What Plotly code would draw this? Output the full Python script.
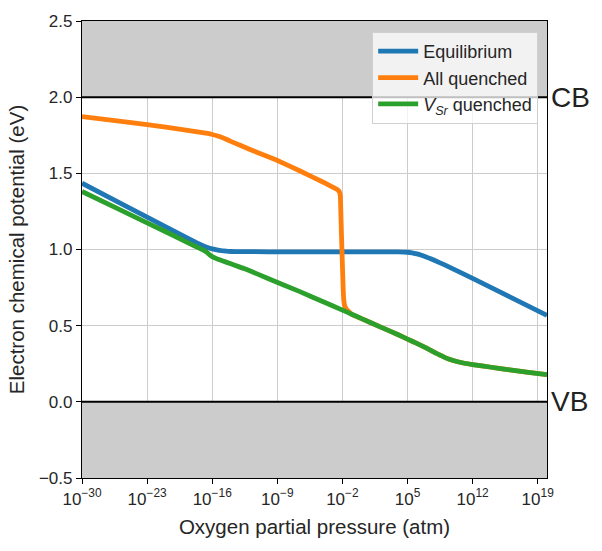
import plotly.graph_objects as go

# ---- data (log10 of oxygen partial pressure, electron chemical potential in eV) ----
eq_logp = [-30, -26, -23, -20, -17.7, -17, -16.5, -16, -15.5, -15, -14.5, -14, -13, -10, -5, 0,
           3, 4, 5, 5.5, 6, 6.5, 7, 7.5, 8, 9, 10, 12, 16, 20]
eq_mu = [1.435, 1.307, 1.212, 1.117, 1.045, 1.025, 1.013, 1.004, 0.997, 0.992, 0.989, 0.987, 0.986,
         0.985, 0.985, 0.985, 0.985, 0.984, 0.982, 0.978, 0.971, 0.962, 0.951, 0.939, 0.926, 0.899,
         0.870, 0.810, 0.689, 0.568]

vsr_logp = [-30, -26, -23, -20, -17.7, -17, -16.6, -16.3, -16, -15.6, -15.2, -14.5, -13.5, -12.35,
            -10, -6.63, -4, -2, -1, 0, 2, 4, 5, 6, 7, 8, 8.5, 9, 9.5, 10, 11, 12, 14, 16, 18, 20]
vsr_mu = [1.381, 1.263, 1.175, 1.087, 1.017, 0.997, 0.983, 0.966, 0.953, 0.942, 0.932, 0.917, 0.895,
          0.870, 0.810, 0.725, 0.655, 0.602, 0.575, 0.548, 0.494, 0.440, 0.412, 0.384, 0.354, 0.322,
          0.306, 0.292, 0.280, 0.270, 0.255, 0.245, 0.227, 0.210, 0.194, 0.178]

allq_logp = [-30, -26, -23, -19, -16.5, -16, -15.5, -15, -14.5, -14, -13, -11, -9.1, -6.6, -4, -3,
             -2.6, -2.4, -2.3, -2.22, -2.17, -2.1, -2.0, -1.92, -1.85, -1.75, -1.6, -1.3, -1.0,
             0, 2, 4, 5, 6, 7, 8, 8.5, 9, 9.5, 10, 11, 12, 14, 16, 18, 20]
allq_mu = [1.872, 1.843, 1.820, 1.785, 1.762, 1.755, 1.747, 1.737, 1.724, 1.710, 1.684, 1.633, 1.587,
           1.517, 1.440, 1.408, 1.395, 1.385, 1.375, 1.350, 1.250, 1.100, 0.900, 0.750, 0.665, 0.630,
           0.612, 0.592, 0.575, 0.548, 0.494, 0.440, 0.412, 0.384, 0.354, 0.322, 0.306, 0.292, 0.280,
           0.270, 0.255, 0.245, 0.227, 0.210, 0.194, 0.178]

x_tick_exps = [-30, -23, -16, -9, -2, 5, 12, 19]
y_ticks = [-0.5, 0.0, 0.5, 1.0, 1.5, 2.0, 2.5]
cbm = 2.0
vbm = 0.0

series_names = ["Equilibrium", "All quenched", "<i>V</i><sub><i>Sr</i></sub> quenched"]
colors = ["#1f77b4", "#ff7f0e", "#2ca02c"]

FONT = "Liberation Sans, Arial, Helvetica, sans-serif"

fig = go.Figure()
for name, lp, mu, c in zip(series_names,
                            [eq_logp, allq_logp, vsr_logp],
                            [eq_mu, allq_mu, vsr_mu], colors):
    fig.add_trace(go.Scatter(x=[10.0 ** v for v in lp], y=mu, mode="lines", name=name,
                             line=dict(color=c, width=4.8, shape="spline", smoothing=0.3)))

# shaded band regions
fig.add_shape(type="rect", xref="paper", yref="y", x0=0, x1=1, y0=cbm, y1=2.5,
              fillcolor="rgba(0,0,0,0.2)", line=dict(width=0), layer="between")
fig.add_shape(type="rect", xref="paper", yref="y", x0=0, x1=1, y0=-0.5, y1=vbm,
              fillcolor="rgba(0,0,0,0.2)", line=dict(width=0), layer="between")
for yv in (cbm, vbm):
    fig.add_shape(type="line", xref="paper", yref="y", x0=0, x1=1, y0=yv, y1=yv,
                  line=dict(color="black", width=2), layer="above")

fig.add_annotation(x=1, y=cbm, xref="paper", yref="y", text="CB", showarrow=False,
                   xanchor="left", yanchor="middle", xshift=2, font=dict(size=28, color="#222"))
fig.add_annotation(x=1, y=vbm, xref="paper", yref="y", text="VB", showarrow=False,
                   xanchor="left", yanchor="middle", xshift=2, font=dict(size=28, color="#222"))

fig.update_layout(
    width=602, height=551,
    margin=dict(l=82, r=55, t=16, b=73),
    paper_bgcolor="white", plot_bgcolor="white",
    font=dict(family=FONT, size=17, color="#262626"),
    legend=dict(x=0.981, y=0.976, xanchor="right", yanchor="top",
                bgcolor="rgba(255,255,255,0.75)", bordercolor="#d0d0d0", borderwidth=1,
                font=dict(size=18, color="#262626"), tracegroupgap=0, itemwidth=40),
    showlegend=True,
)
fig.update_xaxes(
    type="log", range=[-30, 20],
    tickvals=[10.0 ** e for e in x_tick_exps],
    ticktext=["10<sup>%s</sup>" % str(e).replace("-", "\u2212") for e in x_tick_exps],
    showgrid=True, gridcolor="#cccccc", gridwidth=1,
    showline=True, linecolor="black", linewidth=1.25, mirror=True,
    ticks="outside", ticklen=5, tickcolor="black", tickwidth=1,
    title=dict(text="Oxygen partial pressure (atm)", font=dict(size=20.5), standoff=12),
    zeroline=False,
)
fig.update_yaxes(
    range=[-0.5, 2.5], tickvals=y_ticks, tickformat=".1f",
    showgrid=True, gridcolor="#cccccc", gridwidth=1,
    showline=True, linecolor="black", linewidth=1.25, mirror=True,
    ticks="outside", ticklen=5, tickcolor="black", tickwidth=1,
    title=dict(text="Electron chemical potential (eV)", font=dict(size=20.5), standoff=8),
    zeroline=False,
)

fig.write_html("out.html")
